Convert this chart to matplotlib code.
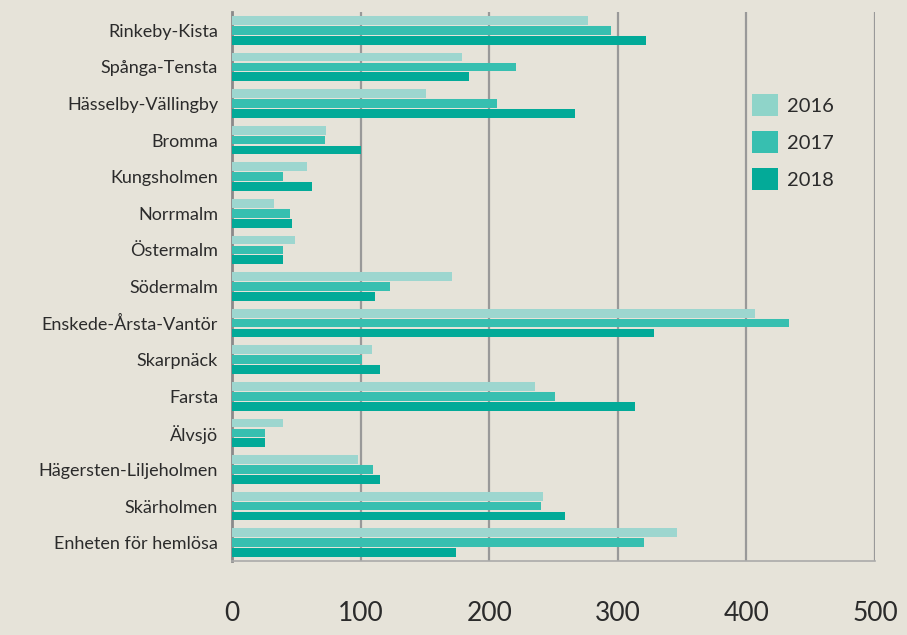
import matplotlib
matplotlib.use("Agg")
import matplotlib.pyplot as plt
import numpy as np
from matplotlib.patches import Patch

categories = ["Rinkeby-Kista", "Spånga-Tensta", "Hässelby-Vällingby", "Bromma",
              "Kungsholmen", "Norrmalm", "Östermalm", "Södermalm",
              "Enskede-Årsta-Vantör", "Skarpnäck", "Farsta", "Älvsjö",
              "Hägersten-Liljeholmen", "Skärholmen", "Enheten för hemlösa"]
years = ["2016", "2017", "2018"]
v2016 = [277, 179, 151, 73, 58, 33, 49, 171, 407, 109, 236, 40, 98, 242, 346]
v2017 = [295, 221, 206, 72, 40, 45, 40, 123, 433, 101, 251, 26, 110, 240, 320]
v2018 = [322, 184, 267, 100, 62, 47, 40, 111, 328, 115, 313, 26, 115, 259, 174]
xticks = [0, 100, 200, 300, 400, 500]

bg = "#e6e3d9"
colors = ["#9dd6cf", "#37bfb0", "#02aa98"]
legend_colors = ["#8fd4c9", "#37bfb0", "#03aa98"]

plt.rcParams['font.family'] = ['Lato', 'DejaVu Sans']

fig = plt.figure(figsize=(9.07, 6.35), dpi=100, facecolor=bg)
ax = fig.add_axes([232/907, 1-561/635, (875-232)/907, (561-12)/635], facecolor=bg)

y = np.arange(len(categories))
h = 0.24
off = 0.27
for i, (vals, c) in enumerate(zip([v2016, v2017, v2018], colors)):
    ax.barh(y + (i-1)*off, vals, height=h, color=c, zorder=3)

ax.set_ylim(len(categories)-0.5, -0.5)
ax.set_xlim(0, 500)
ax.set_yticks(y)
ax.set_yticklabels(categories, fontsize=13, color="#2b2b2b")
ax.set_xticks(xticks)
ax.set_xticklabels([str(t) for t in xticks], fontsize=19, color="#2b2b2b")
ax.tick_params(axis="y", length=0, pad=10)
ax.tick_params(axis="x", length=0, pad=29)

for t in xticks[1:]:
    ax.axvline(t, color="#999999", lw=1.6, zorder=1)
for s in ["top", "right"]:
    ax.spines[s].set_visible(False)
ax.spines["left"].set_color("#8a8a8a")
ax.spines["left"].set_linewidth(2)
ax.spines["bottom"].set_color("#aaaaaa")
ax.spines["bottom"].set_linewidth(1.2)

handles = [Patch(facecolor=c, edgecolor="none") for c in legend_colors]
leg = fig.legend(handles, years, loc="upper left", bbox_to_anchor=(734/907, 1-76/635),
                 frameon=False, fontsize=14.5, handlelength=1.3, handleheight=1.3,
                 labelspacing=0.75, handletextpad=0.45)
for t in leg.get_texts():
    t.set_color("#2b2b2b")

fig.savefig("out.png", dpi=100, facecolor=bg)
